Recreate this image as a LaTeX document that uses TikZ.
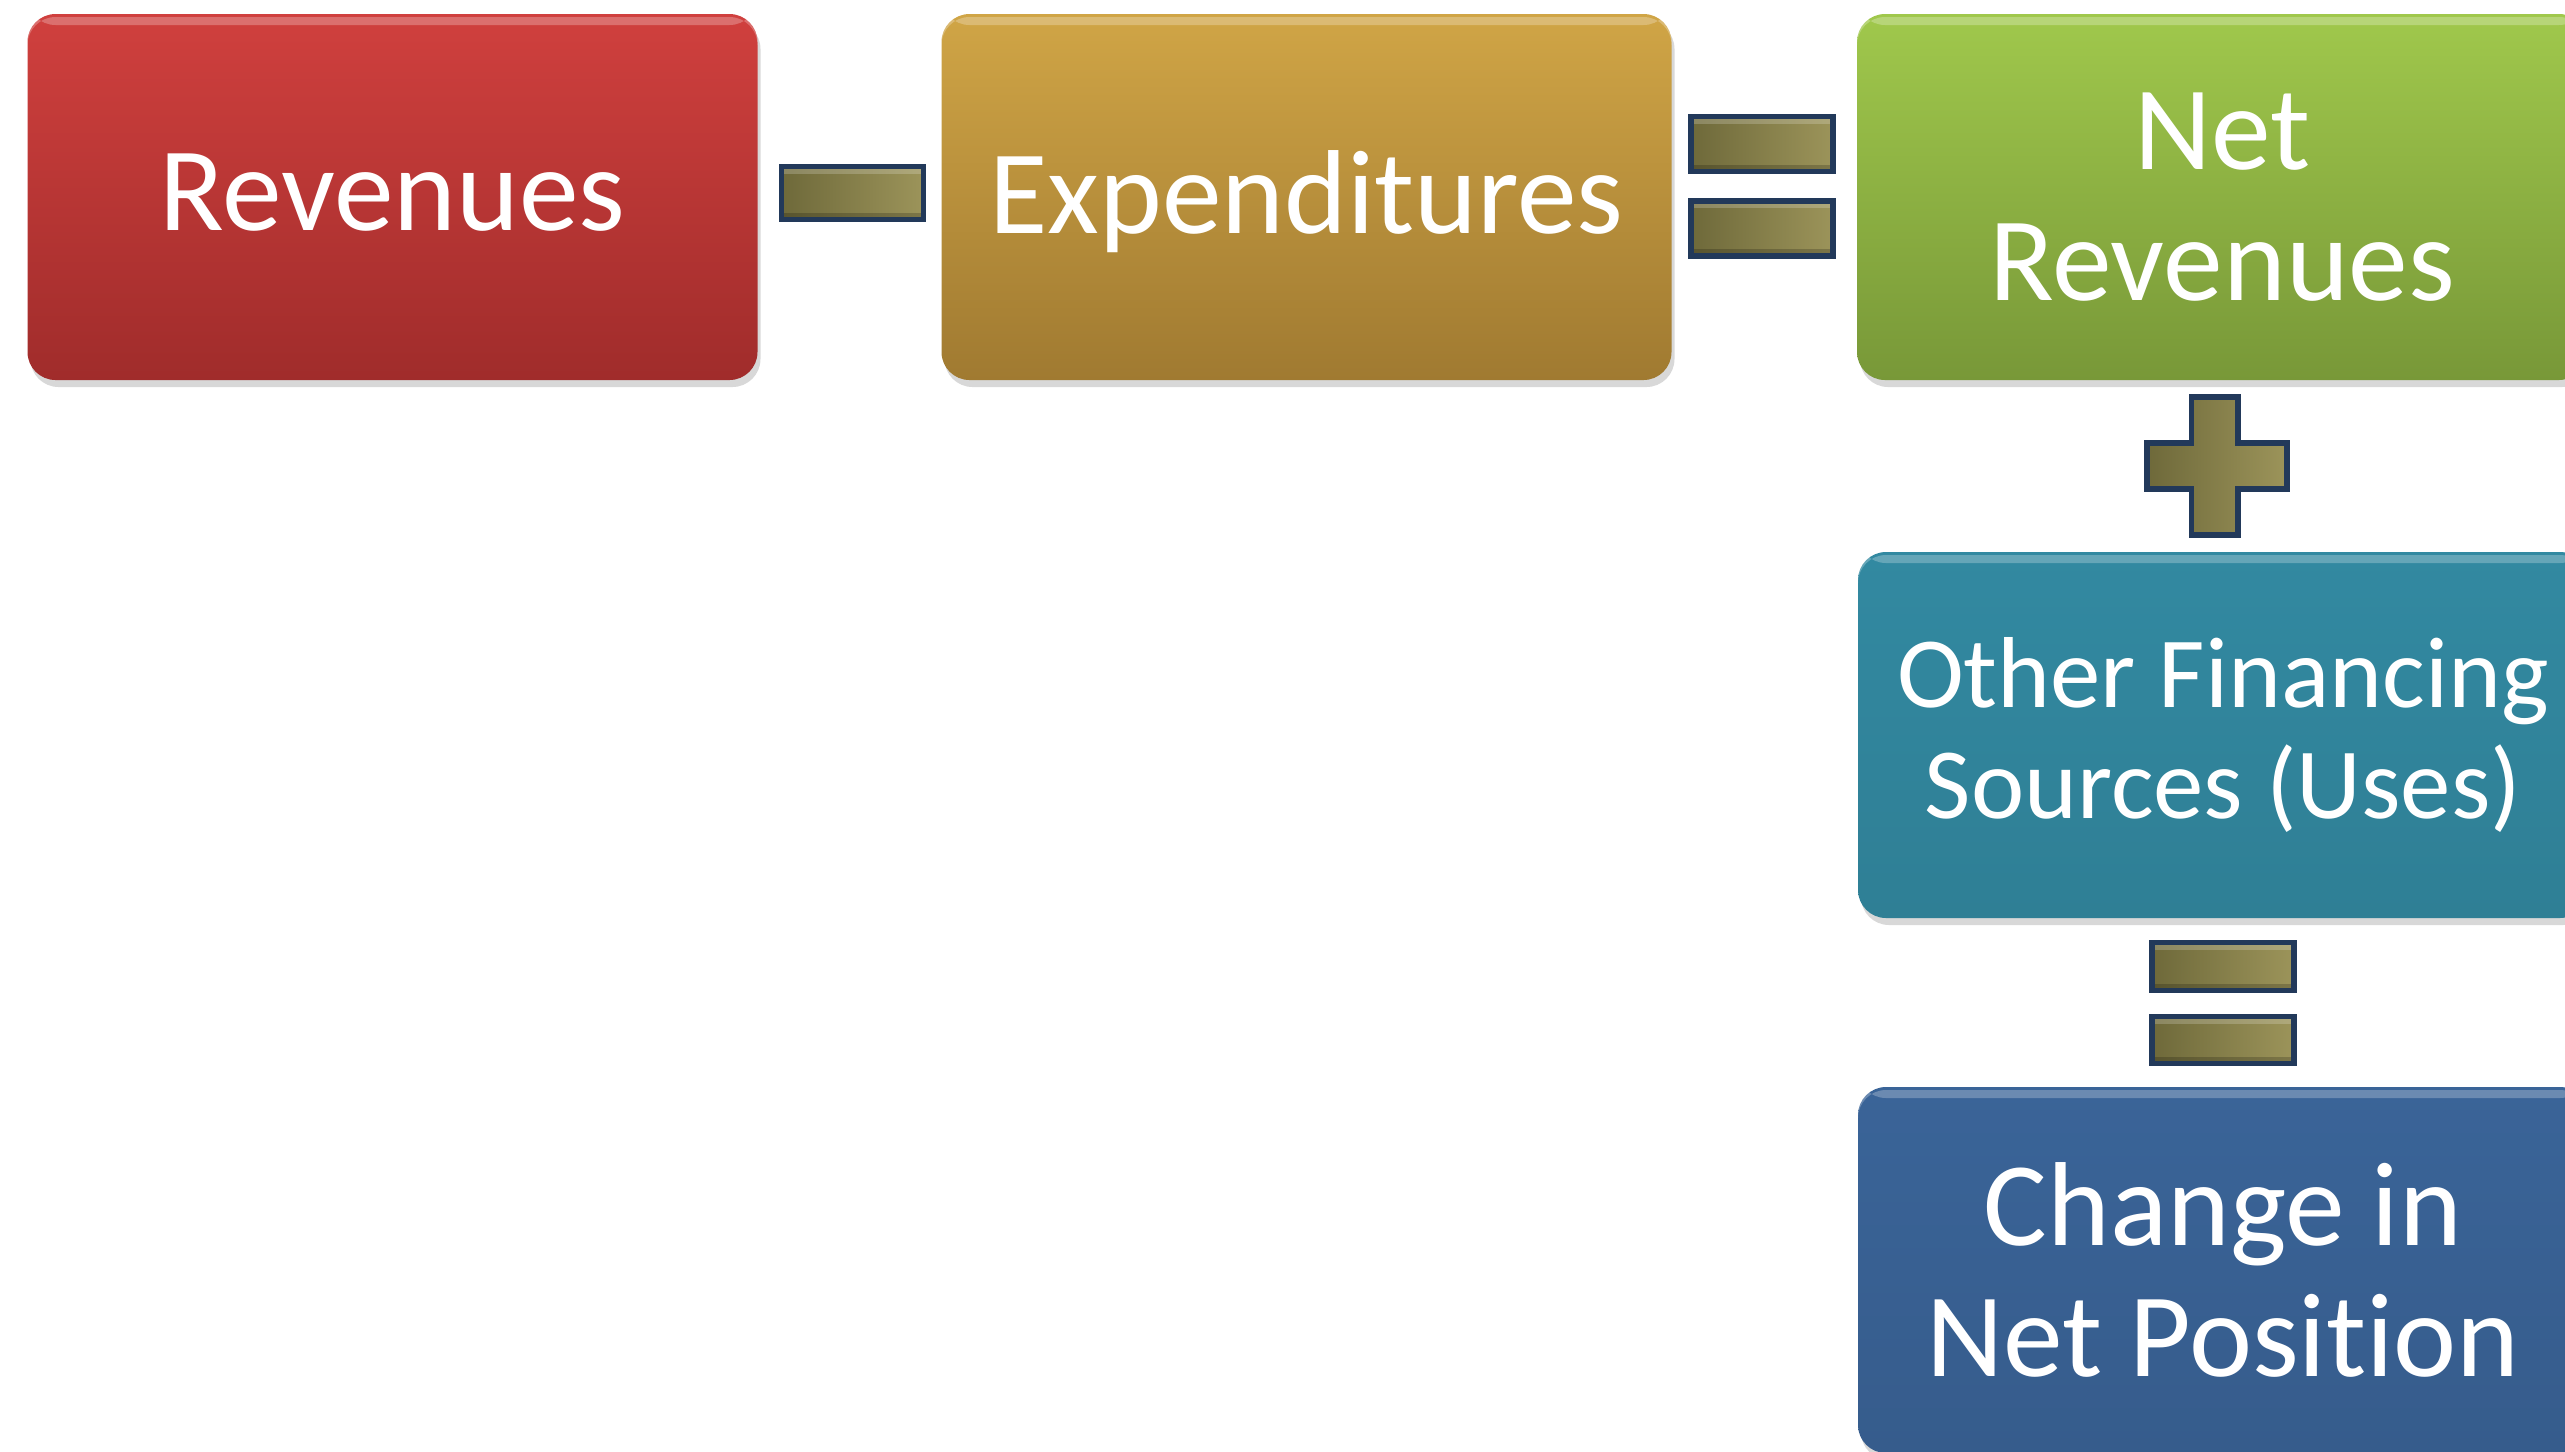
\documentclass[tikz,border=0pt]{standalone}
\usepackage{fontspec}
\setmainfont{Carlito}[Ligatures={NoCommon,NoRare}]
\usetikzlibrary{shadows}

% box colours (top / bottom of the gradient)
\definecolor{revtop}{HTML}{D0403E}
\definecolor{revbot}{HTML}{A02C2B}
\definecolor{exptop}{HTML}{D0A546}
\definecolor{expbot}{HTML}{A07A31}
\definecolor{nettop}{HTML}{A0C84C}
\definecolor{netbot}{HTML}{789838}
\definecolor{othtop}{HTML}{3289A1}
\definecolor{othbot}{HTML}{2F7F95}
\definecolor{chgtop}{HTML}{3A6498}
\definecolor{chgbot}{HTML}{365C8C}
% operator colours
\definecolor{opedge}{HTML}{22395A}
\definecolor{opleft}{HTML}{6E693A}
\definecolor{opright}{HTML}{9C945A}

\tikzset{
  bigbox/.style={rectangle, rounded corners=0.28cm, minimum width=7.3cm,
    minimum height=3.66cm, inner sep=0pt, text=white, align=center,
    font=\fontsize{34}{37.3}\selectfont,
    drop shadow={shadow xshift=0.03cm, shadow yshift=-0.07cm, opacity=0.3},
    path picture={\fill[white,opacity=0.25]
      ([yshift=-0.03cm]path picture bounding box.north west) rectangle
      ([yshift=-0.11cm]path picture bounding box.north east);}},
  opfill/.style={draw=opedge, line width=1.5pt, left color=opleft, right color=opright},
  opbar/.style={opfill, rectangle, inner sep=0pt, minimum width=1.42cm,
    path picture={\fill[white,opacity=0.2]
      (path picture bounding box.north west) rectangle
      ([yshift=-0.07cm]path picture bounding box.north east);
      \fill[black,opacity=0.2]
      (path picture bounding box.south west) rectangle
      ([yshift=0.07cm]path picture bounding box.south east);}},
}

\begin{document}
\begin{tikzpicture}[x=1cm, y=-1cm]

% page size of the reference (25.65 x 14.51 cm)
\fill[white] (0,0) rectangle (25.65,14.51);
\clip (0,0) rectangle (25.65,14.51);

% row of boxes
\node[bigbox, top color=revtop, bottom color=revbot, text depth=0.1cm] (rev) at (3.925,1.97) {Revenues};
\node[bigbox, top color=exptop, bottom color=expbot, text depth=0.1cm] (expd) at (13.065,1.97) {Expenditures};
\node[bigbox, top color=nettop, bottom color=netbot] (netrev) at (22.22,1.97) {Net\\Revenues};

% column of boxes
\node[bigbox, top color=othtop, bottom color=othbot, font=\fontsize{28.7}{31.6}\selectfont] (othfin) at (22.23,7.35) {Other Financing\\Sources (Uses)};
\node[bigbox, top color=chgtop, bottom color=chgbot] (chgnet) at (22.23,12.70) {Change in\\Net Position};

%--- operators between the boxes ---
% minus
\node[opbar, minimum height=0.53cm] (minus) at (8.525,1.93) {};
% equals (row)
\node[opbar, minimum height=0.55cm] (eqa1) at (17.62,1.44) {};
\node[opbar, minimum height=0.55cm] (eqa2) at (17.62,2.285) {};
% plus
\draw[opfill] (21.915,3.97) -- (22.38,3.97) -- (22.38,4.43) -- (22.87,4.43)
  -- (22.87,4.89) -- (22.38,4.89) -- (22.38,5.35) -- (21.915,5.35)
  -- (21.915,4.89) -- (21.47,4.89) -- (21.47,4.43) -- (21.915,4.43) -- cycle;
% equals (column)
\node[opbar, minimum height=0.48cm] (eqb1) at (22.23,9.665) {};
\node[opbar, minimum height=0.47cm] (eqb2) at (22.23,10.40) {};

\end{tikzpicture}
\end{document}
